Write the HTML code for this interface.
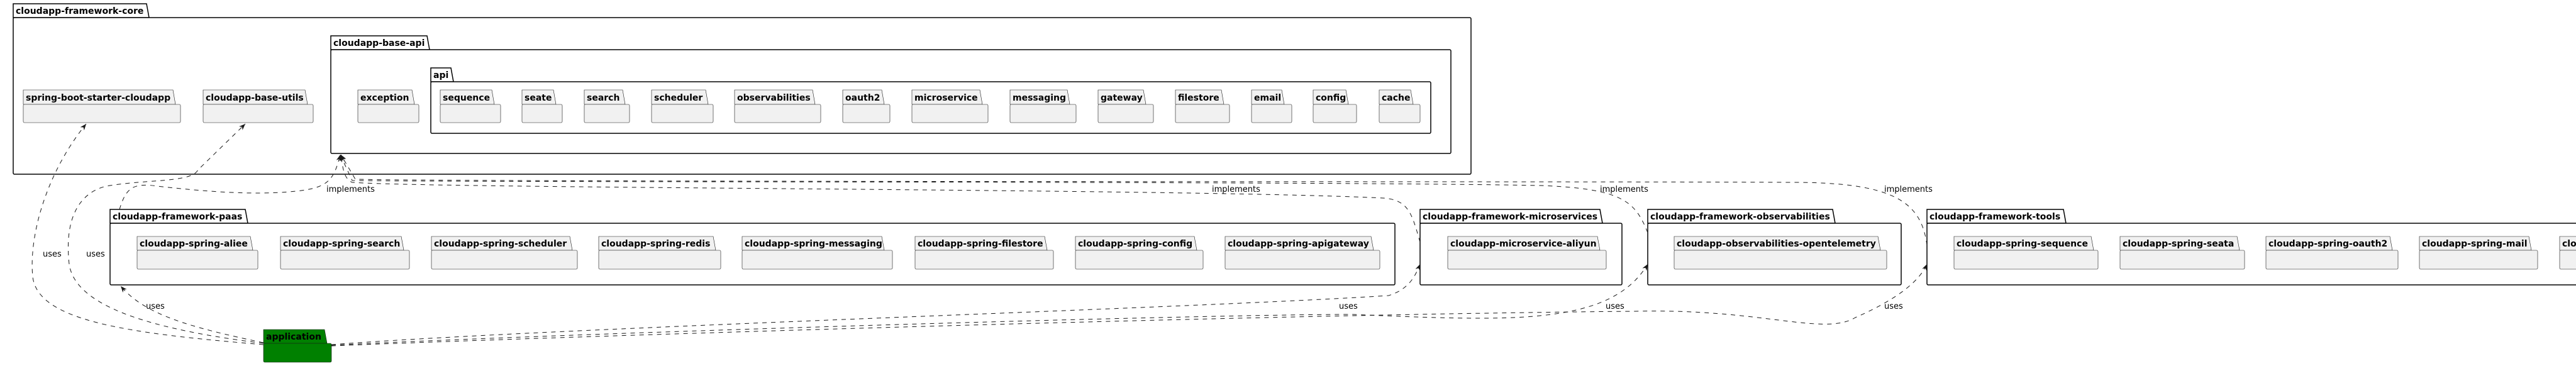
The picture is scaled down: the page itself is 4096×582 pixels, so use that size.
<!DOCTYPE html>
<html><head><meta charset="utf-8"><style>
html,body{margin:0;padding:0;background:#fff;width:4096px;height:582px;overflow:hidden}
text{font-family:"DejaVu Sans","Liberation Sans",sans-serif}
.b{font-weight:bold;font-size:14px;fill:#000}
.l{font-size:13px;fill:#000}
.o{fill:#fff;stroke:#000;stroke-width:1.5}
.c{fill:#F1F1F1;stroke:#181818;stroke-width:0.6}
.e{fill:none;stroke:#181818;stroke-width:1;stroke-dasharray:7,7}
</style></head><body>
<svg width="4096" height="582" xmlns="http://www.w3.org/2000/svg">
<defs><marker id="a" viewBox="0 0 10 10" refX="10" refY="5" markerWidth="10" markerHeight="10" orient="auto" markerUnits="userSpaceOnUse"><path d="M0,1 L10,5 L0,9 L3,5 z" fill="#181818"/></marker></defs>

<!-- core -->
<polygon class="o" points="21,6 233,6 237,28 21,28"/><rect class="o" x="21" y="28" width="2318" height="249" rx="2"/>
<text class="b" x="25" y="22">cloudapp-framework-core</text>

<polygon class="c" points="37,143 275,143 279,166 37,166"/><rect class="c" x="37" y="166" width="250" height="29" rx="2"/>
<text class="b" x="41" y="160">spring-boot-starter-cloudapp</text>
<polygon class="c" points="323,143 485,143 489,166 323,166"/><rect class="c" x="323" y="166" width="175" height="29" rx="2"/>
<text class="b" x="327" y="160">cloudapp-base-utils</text>

<polygon class="o" points="526,57 679,57 683,79 526,79"/><rect class="o" x="526" y="79" width="1781" height="165" rx="2"/>
<text class="b" x="530" y="73">cloudapp-base-api</text>
<polygon class="c" points="569,143 655,143 659,166 569,166"/><rect class="c" x="569" y="166" width="97" height="29" rx="2"/>
<text class="b" x="573" y="160">exception</text>

<polygon class="o" points="685,108 717,108 721,130 685,130"/><rect class="o" x="685" y="130" width="1590" height="82" rx="2"/>
<text class="b" x="689" y="124">api</text>

<g>
<polygon class="c" points="700,143 782,143 786,166 700,166"/><rect class="c" x="700" y="166" width="96" height="29" rx="2"/><text class="b" x="704" y="160">sequence</text>
<polygon class="c" points="830,143 880,143 884,166 830,166"/><rect class="c" x="830" y="166" width="64" height="29" rx="2"/><text class="b" x="834" y="160">seate</text>
<polygon class="c" points="929,143 990,143 994,166 929,166"/><rect class="c" x="929" y="166" width="72" height="29" rx="2"/><text class="b" x="933" y="160">search</text>
<polygon class="c" points="1036,143 1122,143 1126,166 1036,166"/><rect class="c" x="1036" y="166" width="98" height="29" rx="2"/><text class="b" x="1040" y="160">scheduler</text>
<polygon class="c" points="1168,143 1292,143 1296,166 1168,166"/><rect class="c" x="1168" y="166" width="137" height="29" rx="2"/><text class="b" x="1172" y="160">observabilities</text>
<polygon class="c" points="1340,143 1402,143 1406,166 1340,166"/><rect class="c" x="1340" y="166" width="75" height="29" rx="2"/><text class="b" x="1344" y="160">oauth2</text>
<polygon class="c" points="1450,143 1558,143 1562,166 1450,166"/><rect class="c" x="1450" y="166" width="121" height="29" rx="2"/><text class="b" x="1454" y="160">microservice</text>
<polygon class="c" points="1606,143 1697,143 1701,166 1606,166"/><rect class="c" x="1606" y="166" width="105" height="29" rx="2"/><text class="b" x="1610" y="160">messaging</text>
<polygon class="c" points="1746,143 1818,143 1822,166 1746,166"/><rect class="c" x="1746" y="166" width="88" height="29" rx="2"/><text class="b" x="1750" y="160">gateway</text>
<polygon class="c" points="1869,143 1942,143 1946,166 1869,166"/><rect class="c" x="1869" y="166" width="86" height="29" rx="2"/><text class="b" x="1873" y="160">filestore</text>
<polygon class="c" points="1990,143 2038,143 2042,166 1990,166"/><rect class="c" x="1990" y="166" width="64" height="29" rx="2"/><text class="b" x="1994" y="160">email</text>
<polygon class="c" points="2088,143 2140,143 2144,166 2088,166"/><rect class="c" x="2088" y="166" width="69" height="29" rx="2"/><text class="b" x="2092" y="160">config</text>
<polygon class="c" points="2193,143 2243,143 2247,166 2193,166"/><rect class="c" x="2193" y="166" width="65" height="29" rx="2"/><text class="b" x="2197" y="160">cache</text>
</g>

<!-- paas -->
<polygon class="o" points="175,333 390,333 394,355 175,355"/><rect class="o" x="175" y="355" width="2043" height="98" rx="2"/>
<text class="b" x="179" y="349">cloudapp-framework-paas</text>
<g>
<polygon class="c" points="218,376 398,376 402,398 218,398"/><rect class="c" x="218" y="398" width="192" height="30" rx="2"/><text class="b" x="222" y="392">cloudapp-spring-aliee</text>
<polygon class="c" points="446,376 638,376 642,398 446,398"/><rect class="c" x="446" y="398" width="205" height="30" rx="2"/><text class="b" x="450" y="392">cloudapp-spring-search</text>
<polygon class="c" points="686,376 906,376 910,398 686,398"/><rect class="c" x="686" y="398" width="232" height="30" rx="2"/><text class="b" x="690" y="392">cloudapp-spring-scheduler</text>
<polygon class="c" points="952,376 1134,376 1138,398 952,398"/><rect class="c" x="952" y="398" width="194" height="30" rx="2"/><text class="b" x="956" y="392">cloudapp-spring-redis</text>
<polygon class="c" points="1180,376 1402,376 1406,398 1180,398"/><rect class="c" x="1180" y="398" width="239" height="30" rx="2"/><text class="b" x="1184" y="392">cloudapp-spring-messaging</text>
<polygon class="c" points="1455,376 1661,376 1665,398 1455,398"/><rect class="c" x="1455" y="398" width="220" height="30" rx="2"/><text class="b" x="1459" y="392">cloudapp-spring-filestore</text>
<polygon class="c" points="1710,376 1899,376 1903,398 1710,398"/><rect class="c" x="1710" y="398" width="203" height="30" rx="2"/><text class="b" x="1714" y="392">cloudapp-spring-config</text>
<polygon class="c" points="1948,376 2180,376 2184,398 1948,398"/><rect class="c" x="1948" y="398" width="246" height="30" rx="2"/><text class="b" x="1952" y="392">cloudapp-spring-apigateway</text>
</g>

<!-- microservices -->
<polygon class="o" points="2258,333 2544,333 2548,355 2258,355"/><rect class="o" x="2258" y="355" width="321" height="98" rx="2"/>
<text class="b" x="2262" y="349">cloudapp-framework-microservices</text>
<polygon class="c" points="2302,376 2540,376 2544,398 2302,398"/><rect class="c" x="2302" y="398" width="252" height="30" rx="2"/><text class="b" x="2306" y="392">cloudapp-microservice-aliyun</text>

<!-- observabilities -->
<polygon class="o" points="2620,333 2914,333 2918,355 2620,355"/><rect class="o" x="2620" y="355" width="403" height="98" rx="2"/>
<text class="b" x="2624" y="349">cloudapp-framework-observabilities</text>
<polygon class="c" points="2662,376 2986,376 2990,398 2662,398"/><rect class="c" x="2662" y="398" width="338" height="30" rx="2"/><text class="b" x="2666" y="392">cloudapp-observabilities-opentelemetry</text>

<!-- tools -->
<polygon class="o" points="3064,333 3281,333 3285,355 3064,355"/><rect class="o" x="3064" y="355" width="1100" height="98" rx="2"/>
<text class="b" x="3068" y="349">cloudapp-framework-tools</text>
<g>
<polygon class="c" points="3107,376 3325,376 3329,398 3107,398"/><rect class="c" x="3107" y="398" width="229" height="30" rx="2"/><text class="b" x="3111" y="392">cloudapp-spring-sequence</text>
<polygon class="c" points="3371,376 3557,376 3561,398 3371,398"/><rect class="c" x="3371" y="398" width="198" height="30" rx="2"/><text class="b" x="3375" y="392">cloudapp-spring-seata</text>
<polygon class="c" points="3603,376 3800,376 3804,398 3603,398"/><rect class="c" x="3603" y="398" width="210" height="30" rx="2"/><text class="b" x="3607" y="392">cloudapp-spring-oauth2</text>
<polygon class="c" points="3847,376 4021,376 4025,398 3847,398"/><rect class="c" x="3847" y="398" width="188" height="30" rx="2"/><text class="b" x="3851" y="392">cloudapp-spring-mail</text>
<polygon class="c" points="4070,376 4300,376 4304,398 4070,398"/><rect class="c" x="4070" y="398" width="240" height="30" rx="2"/><text class="b" x="4074" y="392">cloudapp-spring-cache</text>
</g>

<!-- application -->
<polygon points="419,524 516,524 520,546 419,546" fill="#008000" stroke="#181818" stroke-width="0.6"/>
<rect x="419" y="546" width="108" height="30" rx="2" fill="#008000" stroke="#181818" stroke-width="0.6"/>
<text class="b" x="423" y="540">application</text>

<!-- edges -->
<path class="e" marker-end="url(#a)" d="M419,548 C200,530 60,510 52,440 C46,380 70,280 137,197"/>
<path class="e" marker-end="url(#a)" d="M419,546 C250,525 120,490 110,420 C100,330 140,300 175,295 C240,285 305,290 315,270 L390,197"/>
<path class="e" marker-end="url(#a)" d="M190,333 C200,300 210,290 250,296 C330,305 400,310 460,305 C520,300 530,290 541,246"/>
<path class="e" marker-end="url(#a)" d="M2258,385 C2245,340 2240,318 2200,315 C1900,300 700,300 560,290 C548,285 545,270 542,246"/>
<path class="e" marker-end="url(#a)" d="M2620,370 C2600,320 2580,300 2450,295 C2100,288 700,290 560,287 L541,246"/>
<path class="e" marker-end="url(#a)" d="M3064,390 C3055,320 3010,290 2850,290 C2500,288 800,290 565,285 L542,246"/>
<path class="e" marker-end="url(#a)" d="M419,545 C300,520 230,500 192,455"/>
<path class="e" marker-end="url(#a)" d="M527,548 C900,520 1900,490 2208,470 C2240,460 2250,440 2258,420"/>
<path class="e" marker-end="url(#a)" d="M527,549 C900,530 1900,500 2150,500 C2400,510 2560,520 2620,420"/>
<path class="e" marker-end="url(#a)" d="M527,550 C900,535 2000,500 2600,495 C2800,490 2900,535 2950,505 C3030,470 3055,440 3064,420"/>

<!-- labels -->
<g class="l">
<text class="l" x="68" y="408">uses</text>
<text class="l" x="137" y="408">uses</text>
<text class="l" x="519" y="305">implements</text>
<text class="l" x="232" y="491">uses</text>
<text class="l" x="1927" y="305">implements</text>
<text class="l" x="2544" y="305">implements</text>
<text class="l" x="2129" y="491">uses</text>
<text class="l" x="2553" y="491">uses</text>
<text class="l" x="2996" y="305">implements</text>
<text class="l" x="2996" y="491">uses</text>
</g>
</svg>
</body></html>
